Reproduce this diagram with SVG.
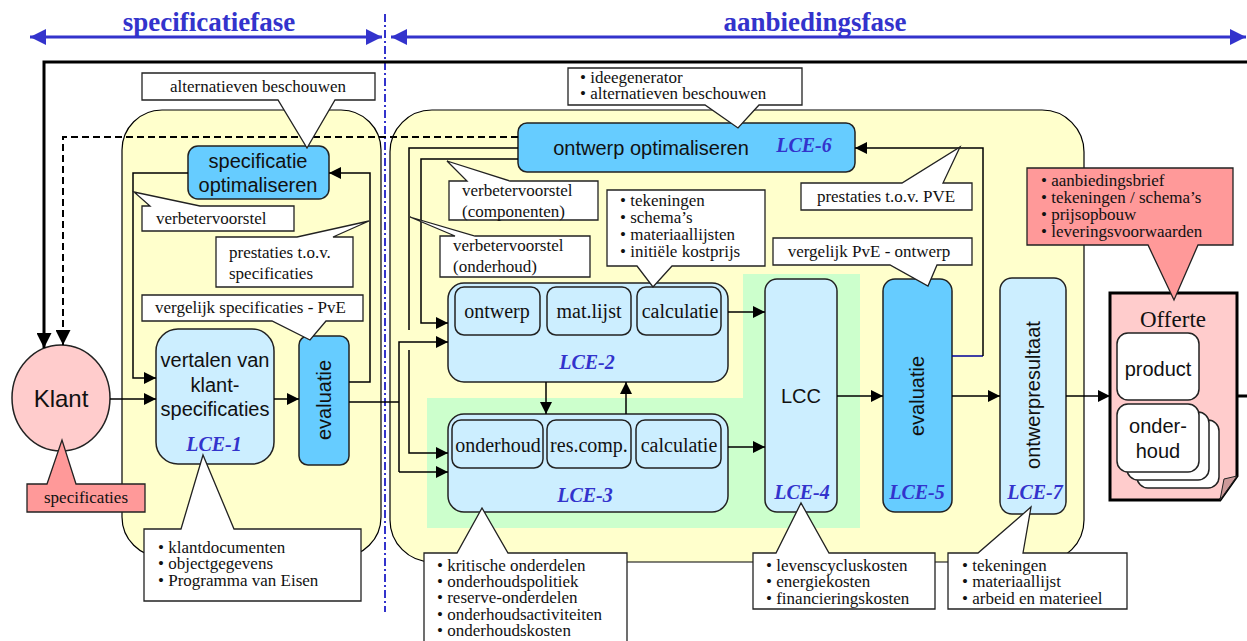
<svg xmlns="http://www.w3.org/2000/svg" width="1247" height="641" viewBox="0 0 1247 641">
<style>
.panel{fill:#ffffcc;stroke:#000;stroke-width:1.2}
.co{fill:#fff;stroke:#222;stroke-width:1.3}
.cop{fill:#ff9999;stroke:#222;stroke-width:1.3}
.lb{fill:#cceeff;stroke:#222;stroke-width:1.5}
.db{fill:#66ccff;stroke:#222;stroke-width:1.5}
.wb{fill:#fff;stroke:#222;stroke-width:1.5}
.c{fill:none;stroke:#000;stroke-width:1.5}
.s{font-family:"Liberation Serif","Times New Roman",serif;font-size:17px;fill:#111}
.b{font-family:"Liberation Serif","Times New Roman",serif;font-size:17px;fill:#111}
.sub{font-family:"Liberation Serif","Times New Roman",serif;font-size:20px;fill:#111;text-anchor:middle}
.ss{font-family:"Liberation Sans",Arial,sans-serif;font-size:20px;fill:#111;text-anchor:middle}
.lce{font-family:"Liberation Serif","Times New Roman",serif;font-size:20px;font-weight:bold;font-style:italic;fill:#3333cc;text-anchor:middle}
.ph{font-family:"Liberation Serif","Times New Roman",serif;font-size:27px;font-weight:bold;fill:#3333cc;text-anchor:middle}
</style>
<defs>
<marker id="ah" viewBox="0 0 10 10" refX="10" refY="5" markerWidth="13" markerHeight="12" markerUnits="userSpaceOnUse" orient="auto"><path d="M0,0 L10,5 L0,10 Z" fill="#000"/></marker>
<marker id="ahb" viewBox="0 0 10 10" refX="10" refY="5" markerWidth="15" markerHeight="15" markerUnits="userSpaceOnUse" orient="auto"><path d="M0,0 L10,5 L0,10 Z" fill="#000"/></marker>
<marker id="ahp" viewBox="0 0 10 10" refX="10" refY="5" markerWidth="16" markerHeight="17" markerUnits="userSpaceOnUse" orient="auto-start-reverse"><path d="M0,0 L10,5 L0,10 Z" fill="#3333cc"/></marker>
</defs>

<g id="phases">
<text class="ph" x="209" y="31">specificatiefase</text>
<text class="ph" x="815" y="31">aanbiedingsfase</text>
<line x1="30" y1="37" x2="382" y2="37" stroke="#3333cc" stroke-width="3" marker-start="url(#ahp)" marker-end="url(#ahp)"/>
<line x1="391" y1="37" x2="1246" y2="37" stroke="#3333cc" stroke-width="3" marker-start="url(#ahp)" marker-end="url(#ahp)"/>
<line x1="385" y1="14" x2="385" y2="612" stroke="#3333cc" stroke-width="2" stroke-dasharray="8,3,2,3"/>
</g>

<g id="panels">
<rect class="panel" x="122" y="110" width="259" height="447" rx="40"/>
<rect class="panel" x="390" y="110" width="694" height="452" rx="42"/>
<path d="M743,274 H860 V528 H427 V398 H743 Z" fill="#ccffcc"/>
</g>

<g id="klant">
<ellipse cx="61" cy="398" rx="49" ry="53" fill="#ffcccc" stroke="#222" stroke-width="1.5"/>
<text class="ss" x="61" y="407" style="font-size:24px">Klant</text>
</g>

<g id="spec-opt">
<rect class="db" x="188" y="146" width="141" height="53" rx="10"/>
<text class="ss" x="258" y="168">specificatie</text>
<text class="ss" x="258" y="192">optimaliseren</text>
</g>

<g id="lce1">
<rect class="lb" x="156" y="329" width="118" height="135" rx="22"/>
<text class="ss" x="215" y="367">vertalen van</text>
<text class="ss" x="215" y="392">klant-</text>
<text class="ss" x="215" y="416">specificaties</text>
<text class="lce" x="214" y="451">LCE-1</text>
</g>

<g id="eval1">
<rect class="db" x="299" y="336" width="50" height="129" rx="9"/>
<text class="ss" transform="rotate(-90 324 400)" x="324" y="407">evaluatie</text>
</g>

<g id="lce6">
<rect class="db" x="518" y="123" width="337" height="49" rx="9"/>
<text class="ss" x="651" y="155">ontwerp optimaliseren</text>
<text class="lce" x="804" y="152">LCE-6</text>
</g>

<g id="lce2">
<rect class="lb" x="448" y="283" width="280" height="99" rx="16"/>
<rect class="lb" x="455" y="287" width="85" height="48" rx="9"/>
<rect class="lb" x="547" y="287" width="84" height="48" rx="9"/>
<rect class="lb" x="637" y="287" width="84" height="48" rx="9"/>
<text class="sub" x="497" y="318">ontwerp</text>
<text class="sub" x="589" y="318">mat.lijst</text>
<text class="sub" x="680" y="318">calculatie</text>
<text class="lce" x="587" y="369">LCE-2</text>
</g>

<g id="lce3">
<rect class="lb" x="448" y="414" width="280" height="98" rx="16"/>
<rect class="lb" x="452" y="420" width="91" height="48" rx="9"/>
<rect class="lb" x="547" y="420" width="84" height="48" rx="9"/>
<rect class="lb" x="636" y="420" width="85" height="48" rx="9"/>
<text class="sub" x="498" y="452">onderhoud</text>
<text class="sub" x="589" y="452">res.comp.</text>
<text class="sub" x="679" y="452">calculatie</text>
<text class="lce" x="585" y="502">LCE-3</text>
</g>

<g id="lce4">
<rect class="lb" x="765" y="279" width="72" height="233" rx="12"/>
<text class="ss" x="801" y="403">LCC</text>
<text class="lce" x="802" y="499">LCE-4</text>
</g>

<g id="lce5">
<rect class="db" x="883" y="279" width="69" height="233" rx="12"/>
<text class="ss" transform="rotate(-90 917 396)" x="917" y="403">evaluatie</text>
<text class="lce" x="917" y="499">LCE-5</text>
</g>

<g id="lce7">
<rect class="lb" x="1000" y="278" width="66" height="236" rx="12"/>
<text class="ss" transform="rotate(-90 1033 395)" x="1033" y="402">ontwerpresultaat</text>
<text class="lce" x="1035" y="499">LCE-7</text>
</g>

<g id="offerte">
<path d="M1110,293 H1237 V476 L1220,500 H1110 Z" fill="#ffcccc" stroke="#000" stroke-width="3"/>
<path d="M1237,476 L1220,500 L1224,479 Z" fill="#cc9999" stroke="#222" stroke-width="1"/>
<text class="sub" x="1173" y="327" style="font-size:23px">Offerte</text>
<rect class="wb" x="1117" y="333" width="82" height="67" rx="11"/>
<text class="ss" x="1158" y="376">product</text>
<rect class="wb" x="1137" y="420" width="82" height="68" rx="11"/>
<rect class="wb" x="1127" y="412" width="82" height="68" rx="11"/>
<rect class="wb" x="1117" y="404" width="82" height="68" rx="11"/>
<text class="ss" x="1158" y="433">onder-</text>
<text class="ss" x="1158" y="458">houd</text>
</g>

<g id="connectors">
<path d="M1247,62 H44 V348" fill="none" stroke="#000" stroke-width="3" marker-end="url(#ahb)"/>
<path d="M518,137 H63 V345" fill="none" stroke="#000" stroke-width="2" stroke-dasharray="7,4" marker-end="url(#ahb)"/>
<path class="c" d="M188,173 H133 V378 H156" marker-end="url(#ah)"/>
<path class="c" d="M349,382 H370 V173 H329" marker-end="url(#ah)"/>
<path class="c" d="M110,399 H156" marker-end="url(#ah)"/>
<path class="c" d="M274,399 H299" marker-end="url(#ah)"/>
<path class="c" d="M349,402 H399"/>
<path class="c" d="M399,472 V342 H448" marker-end="url(#ah)"/>
<path class="c" d="M399,472 H448" marker-end="url(#ah)"/>
<path class="c" d="M518,148 H409 V330"/>
<path class="c" d="M409,350 V453 H448" marker-end="url(#ah)"/>
<path class="c" d="M518,159 H421 V323 H448" marker-end="url(#ah)"/>
<path class="c" d="M728,312 H765" marker-end="url(#ah)"/>
<path class="c" d="M728,447 H765" marker-end="url(#ah)"/>
<path class="c" d="M546,382 V414" marker-end="url(#ah)"/>
<path class="c" d="M626,414 V382" marker-end="url(#ah)"/>
<path class="c" d="M837,396 H883" marker-end="url(#ah)"/>
<path d="M952,356 H983" fill="none" stroke="#000099" stroke-width="1.5"/>
<path class="c" d="M983,356 V148 H855" marker-end="url(#ah)"/>
<path class="c" d="M952,396 H1000" marker-end="url(#ah)"/>
<path class="c" d="M1066,396 H1110" marker-end="url(#ah)"/>
<path d="M1237,396 H1247" fill="none" stroke="#000" stroke-width="3"/>
</g>

<g id="callout-alt1">
<path class="co" d="M142,73 H375 V100 H335 L307,148 L278,100 H142 Z"/>
<text class="s" x="258" y="92" text-anchor="middle">alternatieven beschouwen</text>
</g>
<g id="callout-verb1">
<path class="co" d="M142,206 H150 L134,192 L200,206 H294 V231 H142 Z"/>
<text class="s" x="156" y="224">verbetervoorstel</text>
</g>
<g id="callout-prest1">
<path class="co" d="M216,237 H297 L369,221 L333,237 H353 V287 H216 Z"/>
<text class="s" x="229" y="258">prestaties t.o.v.</text>
<text class="s" x="229" y="279">specificaties</text>
</g>
<g id="callout-verg1">
<path class="co" d="M142,295 H363 V321 H326 L310,340 L272,321 H142 Z"/>
<text class="s" x="155" y="313">vergelijk specificaties - PvE</text>
</g>
<g id="callout-lce1">
<path class="co" d="M144,529 H181 L203,455 L234,529 H361 V601 H144 Z"/>
<text class="b" x="158" y="553">• klantdocumenten</text>
<text class="b" x="158" y="569">• objectgegevens</text>
<text class="b" x="158" y="586">• Programma van Eisen</text>
</g>
<g id="callout-spec">
<path class="cop" d="M27,484 H47 L62,440 L76,484 H145 V512 H27 Z"/>
<text class="b" x="86" y="503" text-anchor="middle">specificaties</text>
</g>
<g id="callout-idee">
<path class="co" d="M568,68 H802 V105 H759 L738,128 L705,105 H568 Z"/>
<text class="b" x="580" y="83">• ideegenerator</text>
<text class="b" x="580" y="99">• alternatieven beschouwen</text>
</g>
<g id="callout-verb2">
<path class="co" d="M449,181 H467 L447,161 L510,181 H598 V220 H449 Z"/>
<text class="s" x="462" y="196">verbetervoorstel</text>
<text class="s" x="462" y="217">(componenten)</text>
</g>
<g id="callout-verb3">
<path class="co" d="M440,236 H455 L410,217 L475,236 H590 V277 H440 Z"/>
<text class="s" x="453" y="251">verbetervoorstel</text>
<text class="s" x="453" y="272">(onderhoud)</text>
</g>
<g id="callout-tek">
<path class="co" d="M607,190 H765 V266 H672 L653,287 L637,266 H607 Z"/>
<text class="b" x="620" y="206">• tekeningen</text>
<text class="b" x="620" y="223">• schema’s</text>
<text class="b" x="620" y="240">• materiaallijsten</text>
<text class="b" x="620" y="257">• initiële kostprijs</text>
</g>
<g id="callout-verg2">
<path class="co" d="M773,238 H972 V265 H937 L928,286 L890,265 H773 Z"/>
<text class="s" x="869" y="257" text-anchor="middle">vergelijk PvE - ontwerp</text>
</g>
<g id="callout-prest2">
<path class="co" d="M801,183 H902 L960,147 L943,183 H972 V210 H801 Z"/>
<text class="s" x="886" y="202" text-anchor="middle">prestaties t.o.v. PVE</text>
</g>
<g id="callout-offerte">
<path class="cop" d="M1027,168 H1233 V245 H1198 L1174,300 L1148,245 H1027 Z"/>
<text class="b" x="1041" y="186">• aanbiedingsbrief</text>
<text class="b" x="1041" y="203">• tekeningen / schema’s</text>
<text class="b" x="1041" y="220">• prijsopbouw</text>
<text class="b" x="1041" y="237">• leveringsvoorwaarden</text>
</g>
<g id="callout-lce3">
<path class="co" d="M424,553 H457 L482,508 L508,553 H627 V660 H424 Z"/>
<text class="b" x="437" y="571">• kritische onderdelen</text>
<text class="b" x="437" y="587">• onderhoudspolitiek</text>
<text class="b" x="437" y="603">• reserve-onderdelen</text>
<text class="b" x="437" y="620">• onderhoudsactiviteiten</text>
<text class="b" x="437" y="636">• onderhoudskosten</text>
</g>
<g id="callout-lce4">
<path class="co" d="M753,553 H776 L801,503 L829,553 H935 V609 H753 Z"/>
<text class="b" x="766" y="571">• levenscycluskosten</text>
<text class="b" x="766" y="587">• energiekosten</text>
<text class="b" x="766" y="604">• financieringskosten</text>
</g>
<g id="callout-lce7">
<path class="co" d="M948,553 H978 L1031,507 L1023,553 H1127 V609 H948 Z"/>
<text class="b" x="962" y="571">• tekeningen</text>
<text class="b" x="962" y="587">• materiaallijst</text>
<text class="b" x="962" y="604">• arbeid en materieel</text>
</g>
</svg>
